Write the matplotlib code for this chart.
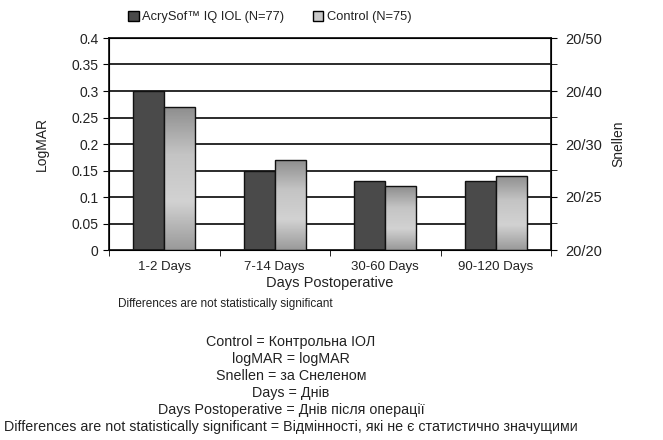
import matplotlib.pyplot as plt
import numpy as np
from matplotlib.colors import LinearSegmentedColormap
from matplotlib.patches import Patch
from matplotlib import font_manager

plt.rcParams['font.family'] = ['Liberation Sans', 'DejaVu Sans']

categories = ['1-2 Days', '7-14 Days', '30-60 Days', '90-120 Days']
acrysof = [0.30, 0.15, 0.13, 0.13]
control = [0.27, 0.17, 0.12, 0.14]
snellen_ticks = [0.0, 0.1, 0.2, 0.3, 0.4]
snellen_labels = ['20/20', '20/25', '20/30', '20/40', '20/50']
legend_labels = ['AcrySof\u2122 IQ IOL (N=77)', 'Control (N=75)']
note = 'Differences are not statistically significant'
glossary = [
    'Control = Контрольна ІОЛ',
    'logMAR = logMAR',
    'Snellen = за Снеленом',
    'Days = Днів',
    'Days Postoperative = Днів після операції',
    'Differences are not statistically significant = Відмінності, які не є статистично значущими',
]

names = {f.name for f in font_manager.fontManager.ttflist}
narrow = 'Liberation Sans Narrow' in names

txt = '#222222'
fig = plt.figure(figsize=(6.63, 4.40), dpi=100)
ax = fig.add_axes([109 / 663, 1 - 250 / 440, 442 / 663, 212 / 440])

x = np.arange(len(categories))
w = 0.28
grad = LinearSegmentedColormap.from_list('g', ['#9a9a9a', '#d2d2d2', '#c4c4c4', '#8e8e8e'])

# gridlines
for y in np.arange(0.05, 0.41, 0.05):
    ax.axhline(y, color='#1a1a1a', lw=1.3, zorder=1)

ax.bar(x - w / 2, acrysof, w, color='#4a4a4a', edgecolor='#111111', lw=1, zorder=2)
b2 = ax.bar(x + w / 2, control, w, color='none', edgecolor='#111111', lw=1, zorder=4)
for r in b2:
    img = ax.imshow(np.linspace(0, 1, 100).reshape(-1, 1), cmap=grad, aspect='auto',
                    extent=[r.get_x(), r.get_x() + r.get_width(), r.get_height(), 0],
                    zorder=3)
    img.set_clip_path(r)

ax.set_xlim(-0.5, 3.5)
ax.set_ylim(0, 0.4)
ax.set_yticks(np.arange(0, 0.41, 0.05))
ax.set_yticklabels(['0', '0.05', '0.1', '0.15', '0.2', '0.25', '0.3', '0.35', '0.4'])
ax.set_xticks(x)
ax.set_xticklabels(categories)
ax.set_xticks(np.arange(-0.5, 3.6, 1), minor=True)
ax.tick_params(axis='x', which='major', length=0, labelsize=9.5, pad=8, labelcolor=txt)
ax.tick_params(axis='x', which='minor', length=4, direction='out')
ax.tick_params(axis='y', labelsize=10, length=4, direction='out', labelcolor=txt)
ax.set_ylabel('LogMAR', fontsize=10, labelpad=16, color=txt)
for s in ax.spines.values():
    s.set_linewidth(1.3)
    s.set_color('#1a1a1a')

ax2 = ax.twinx()
ax2.set_ylim(0, 0.4)
ax2.set_yticks(snellen_ticks)
ax2.set_yticklabels(snellen_labels)
ax2.set_yticks(np.arange(0, 0.41, 0.05), minor=True)
ax2.tick_params(axis='y', labelsize=10.5, length=4, direction='out', pad=6, labelcolor=txt)
ax2.tick_params(axis='y', which='minor', length=4, direction='out')
ax2.set_ylabel('Snellen', fontsize=10, labelpad=7, color=txt)

handles = [Patch(facecolor='#4a4a4a', edgecolor='black'),
           Patch(facecolor='#c8c8c8', edgecolor='black')]
fig.legend(handles, legend_labels, loc='center', bbox_to_anchor=(270 / 663, 1 - 17 / 440),
           ncol=2, frameon=False, fontsize=9.3, handlelength=0.8, handleheight=0.8,
           handletextpad=0.3, columnspacing=2.2, labelcolor=txt)

fig.text(330 / 663, 1 - 283 / 440, 'Days Postoperative', fontsize=10.5, ha='center',
         va='center', color=txt)
fig.text(118 / 663, 1 - 304 / 440, note, fontsize=8.5, va='center', ha='left', color=txt)

if narrow:
    gfam, gsize = ['Liberation Sans Narrow', 'DejaVu Sans'], 12
else:
    gfam, gsize = ['Liberation Sans', 'DejaVu Sans'], 10.3
ys = [342, 359, 376, 393, 410, 427]
for t, yy in zip(glossary, ys):
    fig.text(291 / 663, 1 - yy / 440, t, fontsize=gsize, family=gfam, ha='center',
             va='center', color=txt)

fig.savefig('out.png', dpi=100)
